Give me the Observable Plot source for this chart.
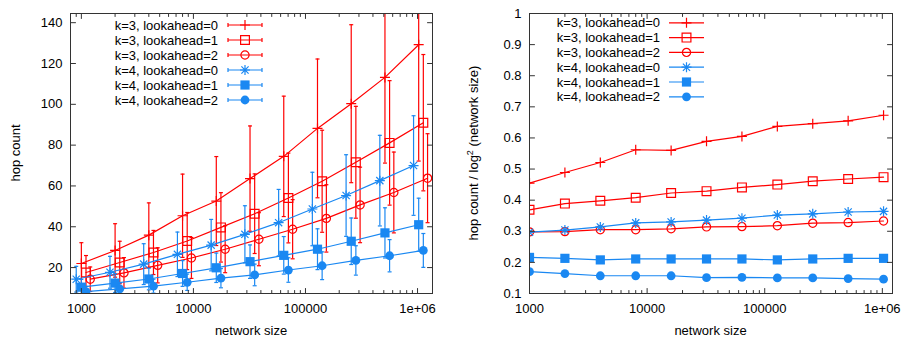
<!DOCTYPE html>
<html><head><meta charset="utf-8">
<script src="https://cdn.jsdelivr.net/npm/d3@7"></script>
<script src="https://cdn.jsdelivr.net/npm/@observablehq/plot@0.6"></script>
<style>
body{margin:0;background:#fff;}
#wrap{display:flex;width:902px;height:337px;overflow:hidden;}
svg{display:block;}
</style></head><body><div id="wrap"></div>
<script>
// ---------- data ----------
const networkSizes = [1000, 2000, 4000, 8000, 16000, 32000, 64000, 128000, 256000, 512000, 1024000];
const seriesNames = ["k=3, lookahead=0", "k=3, lookahead=1", "k=3, lookahead=2",
                     "k=4, lookahead=0", "k=4, lookahead=1", "k=4, lookahead=2"];

// left panel: mean hop count
const hopK3L0 = [22.0, 28.4, 35.9, 45.4, 52.6, 63.6, 74.5, 88.2, 100.3, 113.2, 129.2];
const hopK3L1 = [17.6, 22.5, 27.4, 33.0, 39.7, 46.4, 54.1, 62.3, 71.6, 81.1, 91.0];
const hopK3L2 = [14.3, 17.4, 21.1, 24.7, 29.0, 33.9, 38.8, 44.1, 50.7, 56.8, 63.8];
const hopK4L0 = [14.3, 17.7, 21.7, 26.5, 31.0, 36.3, 42.0, 48.7, 55.3, 62.6, 70.0];
const hopK4L1 = [10.4, 12.4, 14.4, 17.1, 19.9, 22.9, 26.0, 29.0, 32.9, 37.0, 41.0];
const hopK4L2 = [8.2, 9.6, 10.9, 12.8, 14.8, 16.4, 18.8, 20.9, 23.5, 25.8, 28.4];
// left panel: error (+/-)
const errK3L0 = [10.2, 13.1, 15.8, 20.4, 21.8, 25.8, 29.5, 34.0, 38.7, 42.0, 57.0];
const errK3L1 = [8.3, 10.4, 10.8, 14.0, 17.0, 19.5, 22.0, 25.0, 27.4, 30.5, 33.4];
const errK3L2 = [6.0, 7.5, 8.6, 10.0, 11.5, 13.0, 14.5, 16.5, 18.5, 19.8, 21.8];
const errK4L0 = [6.3, 7.8, 10.0, 10.9, 12.6, 14.0, 16.3, 18.0, 20.0, 22.2, 24.4];
const errK4L1 = [3.8, 4.6, 5.3, 6.3, 7.2, 8.2, 9.2, 10.0, 11.4, 12.3, 13.0];
const errK4L2 = [2.6, 3.0, 3.4, 4.0, 4.7, 5.3, 6.0, 6.8, 7.2, 7.9, 8.3];
// horizontal offset factor of each series in the left panel
const xShift = [1.0, 1.1, 1.2, 0.9, 1.0, 1.1];

// right panel: hop count / ln^2(network size)
const ratioK3L0 = [0.455, 0.489, 0.521, 0.562, 0.560, 0.589, 0.605, 0.637, 0.646, 0.655, 0.673];
const ratioK3L1 = [0.369, 0.389, 0.398, 0.408, 0.423, 0.429, 0.441, 0.450, 0.461, 0.468, 0.474];
const ratioK3L2 = [0.298, 0.299, 0.305, 0.305, 0.308, 0.314, 0.315, 0.318, 0.326, 0.328, 0.333];
const ratioK4L0 = [0.297, 0.304, 0.314, 0.327, 0.330, 0.336, 0.342, 0.352, 0.356, 0.362, 0.364];
const ratioK4L1 = [0.216, 0.213, 0.208, 0.211, 0.211, 0.211, 0.211, 0.208, 0.211, 0.213, 0.213];
const ratioK4L2 = [0.170, 0.164, 0.157, 0.157, 0.157, 0.151, 0.152, 0.150, 0.150, 0.148, 0.146];

// ticks
const xTicks = [1000, 10000, 100000, 1000000];
const xTickLabels = ["1000", "10000", "100000", "1e+06"];
const yTicksLeft = [20, 40, 60, 80, 100, 120, 140];
const yTicksRight = [0.1, 0.2, 0.3, 0.4, 0.5, 0.6, 0.7, 0.8, 0.9, 1];
const yTickLabelsRight = ["0.1", "0.2", "0.3", "0.4", "0.5", "0.6", "0.7", "0.8", "0.9", "1"];

// ---------- styles ----------
const RED = "#ff0000", BLUE = "#1a88f2", AXIS = "#333";
const FONT = "'Liberation Sans', Arial, Helvetica, sans-serif";
const S = (draw) => ({draw(c, size) { draw(c, Math.sqrt(size / Math.PI)); }});
const symbols = {
  plus: S((c, h) => { c.moveTo(-h, 0); c.lineTo(h, 0); c.moveTo(0, -h); c.lineTo(0, h); }),
  star: S((c, h) => { const d = h * 0.72; c.moveTo(-h, 0); c.lineTo(h, 0); c.moveTo(0, -h); c.lineTo(0, h);
                      c.moveTo(-d, -d); c.lineTo(d, d); c.moveTo(-d, d); c.lineTo(d, -d); }),
  square: S((c, h) => { c.rect(-h, -h, 2 * h, 2 * h); }),
  circle: S((c, h) => { c.moveTo(h, 0); c.arc(0, 0, h, 0, 2 * Math.PI); c.closePath(); }),
  cap: S((c, h) => { c.moveTo(-h, 0); c.lineTo(h, 0); })
};
const seriesStyle = [
  {color: RED,  symbol: "plus",   filled: false, r: 5},
  {color: RED,  symbol: "square", filled: false, r: 4.4},
  {color: RED,  symbol: "circle", filled: false, r: 4.1},
  {color: BLUE, symbol: "star",   filled: false, r: 5},
  {color: BLUE, symbol: "square", filled: true,  r: 4.6},
  {color: BLUE, symbol: "circle", filled: true,  r: 4.4}
];

const hopSeries = [hopK3L0, hopK3L1, hopK3L2, hopK4L0, hopK4L1, hopK4L2];
const errSeries = [errK3L0, errK3L1, errK3L2, errK4L0, errK4L1, errK4L2];
const ratioSeries = [ratioK3L0, ratioK3L1, ratioK3L2, ratioK4L0, ratioK4L1, ratioK4L2];

const rows = seriesNames.map((name, s) => networkSizes.map((n, i) => ({
  name, n, xs: n * xShift[s], hop: hopSeries[s][i],
  lo: hopSeries[s][i] - errSeries[s][i], hi: hopSeries[s][i] + errSeries[s][i],
  ratio: ratioSeries[s][i]
})));

// ---------- helpers ----------
const tickShape = {draw(c, l) { c.moveTo(0, 0); c.lineTo(0, -l); }};
function minorLogTicks(lo, hi) {
  const out = [];
  for (let e = 2; e <= 6; e++) for (let m = 2; m <= 9; m++) {
    const v = m * Math.pow(10, e); if (v > lo && v < hi) out.push(v);
  }
  return out;
}
function frameTicks(xMajor, xMinor, yMajor) {
  const base = {shape: tickShape, anchor: "start", stroke: AXIS, strokeWidth: 1};
  return [
    Plot.vector(xMajor, {...base, x: d => d, frameAnchor: "bottom", rotate: 0, length: 5}),
    Plot.vector(xMajor, {...base, x: d => d, frameAnchor: "top", rotate: 180, length: 5}),
    Plot.vector(xMinor, {...base, x: d => d, frameAnchor: "bottom", rotate: 0, length: 3}),
    Plot.vector(xMinor, {...base, x: d => d, frameAnchor: "top", rotate: 180, length: 3}),
    Plot.vector(yMajor, {...base, y: d => d, frameAnchor: "left", rotate: 90, length: 5}),
    Plot.vector(yMajor, {...base, y: d => d, frameAnchor: "right", rotate: -90, length: 5})
  ];
}
function seriesMarks(data, st, yKey, xKey, withErr) {
  const marks = [];
  const sw = 1.2;
  if (withErr) {
    marks.push(Plot.ruleX(data, {x: xKey, y1: "lo", y2: "hi", stroke: st.color, strokeWidth: sw, clip: true}));
    marks.push(Plot.dot(data, {x: xKey, y: "hi", symbol: symbols.cap, r: 2, stroke: st.color, fill: "none", strokeWidth: sw, clip: true}));
    marks.push(Plot.dot(data, {x: xKey, y: "lo", symbol: symbols.cap, r: 2, stroke: st.color, fill: "none", strokeWidth: sw, clip: true}));
  }
  marks.push(Plot.line(data, {x: xKey, y: yKey, stroke: st.color, strokeWidth: sw, clip: true}));
  marks.push(Plot.dot(data, {x: xKey, y: yKey, symbol: symbols[st.symbol], r: st.r,
    stroke: st.filled ? "none" : st.color, fill: st.filled ? st.color : "none", strokeWidth: sw, clip: true}));
  return marks;
}
function symbolPath(st) {
  const p = d3.path(); symbols[st.symbol].draw(p, st.r * st.r * Math.PI); return p.toString();
}
function addLegend(svg, o) {
  const g = d3.select(svg).append("g").attr("font-family", FONT).attr("font-size", 13);
  seriesNames.forEach((name, i) => {
    const st = seriesStyle[i], y = o.y0 + i * o.dy;
    g.append("text").attr("x", o.textRight).attr("y", y).attr("dy", "0.35em")
      .attr("text-anchor", "end").attr("fill", "black").text(name);
    g.append("line").attr("x1", o.x1).attr("x2", o.x2).attr("y1", y).attr("y2", y)
      .attr("stroke", st.color).attr("stroke-width", 1.2);
    if (o.caps) for (const cx of [o.x1, o.x2])
      g.append("line").attr("x1", cx).attr("x2", cx).attr("y1", y - 2).attr("y2", y + 2)
        .attr("stroke", st.color).attr("stroke-width", 1.2);
    g.append("path").attr("transform", `translate(${(o.x1 + o.x2) / 2},${y})`).attr("d", symbolPath(st))
      .attr("stroke", st.filled ? "none" : st.color).attr("fill", st.filled ? st.color : "none")
      .attr("stroke-width", 1.2);
  });
}
function addText(svg, x, y, rotate, parts) {
  const t = d3.select(svg).append("text").attr("transform", `translate(${x},${y}) rotate(${rotate})`)
    .attr("text-anchor", "middle").attr("dy", "0.35em").attr("font-family", FONT).attr("font-size", 13)
    .attr("fill", "black");
  parts.forEach(p => {
    const ts = t.append("tspan").text(p.text);
    if (p.sup) ts.attr("baseline-shift", "super").attr("font-size", 9);
  });
}

const common = {
  width: 451, height: 337, marginTop: 13, marginBottom: 44,
  style: {fontFamily: FONT, fontSize: "13px", background: "white", color: "black", overflow: "visible"}
};

// ---------- left panel ----------
const leftDomainX = [800, 1.36e6];
const leftMarks = [];
rows.forEach((data, s) => leftMarks.push(...seriesMarks(data, seriesStyle[s], "hop", "xs", true)));
const left = Plot.plot({
  ...common, marginLeft: 70, marginRight: 19,
  x: {type: "log", domain: leftDomainX},
  y: {domain: [7.3, 144.5]},
  marks: [
    ...leftMarks,
    Plot.frame({stroke: AXIS, strokeWidth: 1}),
    ...frameTicks(xTicks, minorLogTicks(...leftDomainX), yTicksLeft),
    Plot.axisX(xTicks, {tickSize: 0, tickPadding: 10, label: null, fontSize: 13,
      tickFormat: d => xTickLabels[xTicks.indexOf(d)]}),
    Plot.axisY(yTicksLeft, {tickSize: 0, tickPadding: 8, label: null, fontSize: 13})
  ]
});

// ---------- right panel ----------
const rightDomainX = [1000, 1.22e6];
const rightMarks = [];
rows.forEach((data, s) => rightMarks.push(...seriesMarks(data, seriesStyle[s], "ratio", "n", false)));
const right = Plot.plot({
  ...common, marginLeft: 78, marginRight: 10,
  x: {type: "log", domain: rightDomainX},
  y: {domain: [0.1, 1]},
  marks: [
    ...rightMarks,
    Plot.frame({stroke: AXIS, strokeWidth: 1}),
    ...frameTicks(xTicks, minorLogTicks(...rightDomainX), yTicksRight),
    Plot.axisX(xTicks, {tickSize: 0, tickPadding: 10, label: null, fontSize: 13,
      tickFormat: d => xTickLabels[xTicks.indexOf(d)]}),
    Plot.axisY(yTicksRight, {tickSize: 0, tickPadding: 8, label: null, fontSize: 13,
      tickFormat: d => yTickLabelsRight[yTicksRight.indexOf(d)]})
  ]
});

addLegend(left, {textRight: 218, x1: 228, x2: 262, y0: 25, dy: 15, caps: true});
addLegend(right, {textRight: 209, x1: 218, x2: 253, y0: 22.8, dy: 14.8, caps: false});
addText(left, 15, 153, -90, [{text: "hop count"}]);
addText(left, 251, 330, 0, [{text: "network size"}]);
addText(right, 22, 153, -90, [{text: "hop count / log"}, {text: "2", sup: true}, {text: " (network size)"}]);
addText(right, 259.5, 330, 0, [{text: "network size"}]);

const wrap = document.getElementById("wrap");
wrap.appendChild(left);
wrap.appendChild(right);
</script></body></html>
